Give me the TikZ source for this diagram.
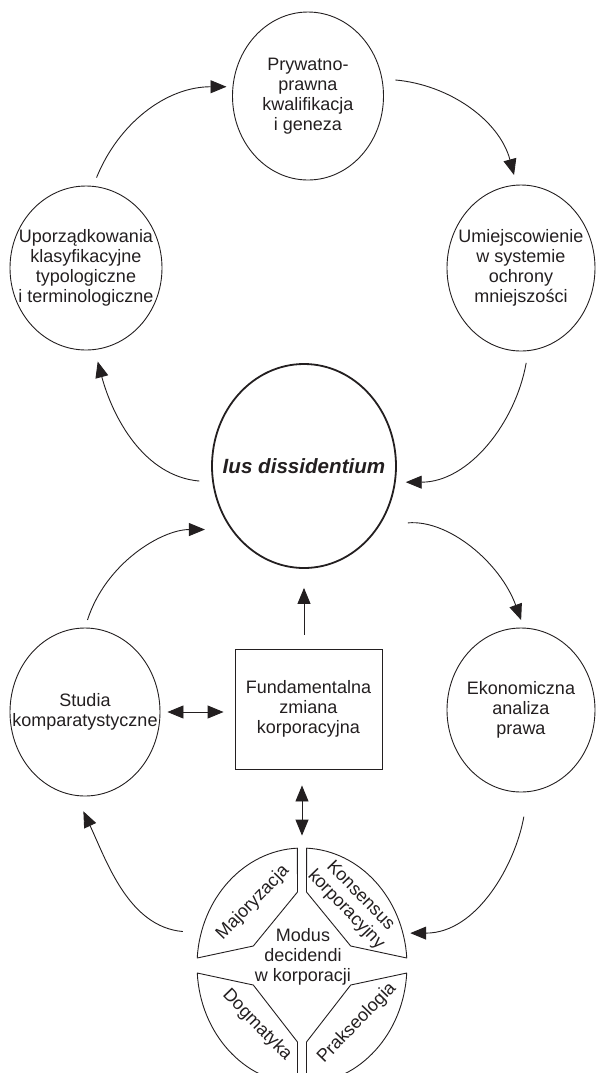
\documentclass[tikz,border=0pt]{standalone}
\usepackage{fontspec}
\setmainfont{Liberation Sans}
\usetikzlibrary{shapes.geometric}
\usetikzlibrary{arrows.meta}
\definecolor{ink}{HTML}{231F20}
\tikzset{x=0.5pt, y=0.5pt,
>={Triangle[length=8pt,width=6.5pt]},
bubble/.style={ % Sets the properties for each ellipse
ellipse, draw=ink, line width=0.45pt, inner sep=0pt},
bubtext/.style={align=center, text=ink, font=\fontsize{9}{10}\selectfont},
petal/.style={draw=ink, line width=0.45pt, line join=round},
every edge/.style={ % Sets the properties for each arrow
draw=ink, line width=0.45pt, ->}}

\begin{document}
\begin{tikzpicture}
	\useasboundingbox (0,0) rectangle (597,-1073);
	\node[bubble, minimum width=75.5pt, minimum height=84pt,
		label={[bubtext]center:Prywatno-\\prawna\\kwalifikacja\\i geneza}] (pryw) at (308,-96) {};
	\node[bubble, minimum width=76pt, minimum height=82pt,
		label={[bubtext]center:Uporządkowania\\klasyfikacyjne\\typologiczne\\i terminologiczne}] (upo) at (86,-268) {};
	\node[bubble, minimum width=74pt, minimum height=83pt,
		label={[bubtext]center:Umiejscowienie\\w systemie\\ochrony\\mniejszości}] (umi) at (521,-268) {};
	\node[bubble, line width=0.9pt, minimum width=92pt, minimum height=102pt,
		label={[bubtext, font=\fontsize{10.3}{12}\selectfont\bfseries\itshape]center:Ius dissidentium}] (ius) at (304,-466) {};
	\node[bubble, minimum width=75pt, minimum height=84pt,
		label={[bubtext]center:Studia\\komparatystyczne}] (stu) at (85,-712) {};
	\node[bubble, minimum width=74pt, minimum height=82pt,
		label={[bubtext]center:Ekonomiczna\\analiza\\prawa}] (eko) at (521,-710) {};
	\node[draw=ink, line width=0.45pt, minimum width=73.5pt, minimum height=60pt, bubtext] (box) at (308.5,-709) {Fundamentalna\\zmiana\\korporacyjna};
	% outline of the split disc, not drawn
	\node[ellipse, inner sep=0pt, minimum width=105pt, minimum height=118pt] (md) at (302,-966) {};
	\node[bubtext] (modus) at (303,-957) {Modus\\decidendi\\w korporacji};
	\begin{scope}[shift={(md.center)}]
		\draw[petal] (-4.5,74) -- (-48.7,20) -- (-104.8,8) arc[start angle=176.1, end angle=92.5, x radius=52.5pt, y radius=59pt] -- cycle;
		\draw[petal] (4.5,74) -- (48.7,20) -- (104.8,8) arc[start angle=3.9, end angle=87.5, x radius=52.5pt, y radius=59pt] -- cycle;
		\draw[petal] (-104.8,-7) -- (-48.7,-19) -- (-4.5,-76) -- (-4.5,-117.9) arc[start angle=267.5, end angle=183.4, x radius=52.5pt, y radius=59pt] -- cycle;
		\draw[petal] (104.8,-7) -- (48.7,-19) -- (4.5,-76) -- (4.5,-117.9) arc[start angle=272.5, end angle=356.6, x radius=52.5pt, y radius=59pt] -- cycle;
		\node[bubtext, rotate=46] (maj) at (-49,63) {Majoryzacja};
		\node[bubtext, rotate=-46] (kons) at (51,63) {Konsensus\\korporacyjny};
		\node[bubtext, rotate=-46] (dogm) at (-45,-59) {Dogmatyka};
		\node[bubtext, rotate=46] (prak) at (55,-57) {Prakseologia};
	\end{scope}
	\draw (upo.85) edge[out=68, in=180, shorten <=4.5pt, shorten >=3pt] (pryw.173);
	\draw (pryw.13) edge[out=-5, in=105, shorten <=6.5pt, shorten >=5pt] (umi.93);
	\draw (umi.-85) edge[out=-100, in=0, shorten <=6pt, shorten >=5pt] (ius.-10);
	\draw (ius.190) edge[out=175, in=-75, shorten <=6.5pt, shorten >=6pt] (upo.-84);
	\draw (stu.90) edge[out=72, in=180, shorten <=4pt, shorten >=13pt] (ius.221);
	\draw (ius.-38) edge[out=5, in=110, shorten <=14pt, shorten >=4pt] (eko.88);
	\draw (box.north -| ius.south) edge[shorten <=7pt, shorten >=9.5pt] (ius.south);
	\draw (stu.east) edge[<->, shorten <=3.5pt, shorten >=5.5pt] (stu.east -| box.west);
	\draw (box.south -| md.north) edge[<->, shorten <=8pt, shorten >=6pt] (md.north);
	\draw (md.162) edge[out=175, in=-65, shorten <=9pt, shorten >=8.5pt] (stu.-96);
	\draw (eko.-85) edge[out=-100, in=0, shorten <=12.5pt, shorten >=3.5pt] (md.18);
\end{tikzpicture}
\end{document}
